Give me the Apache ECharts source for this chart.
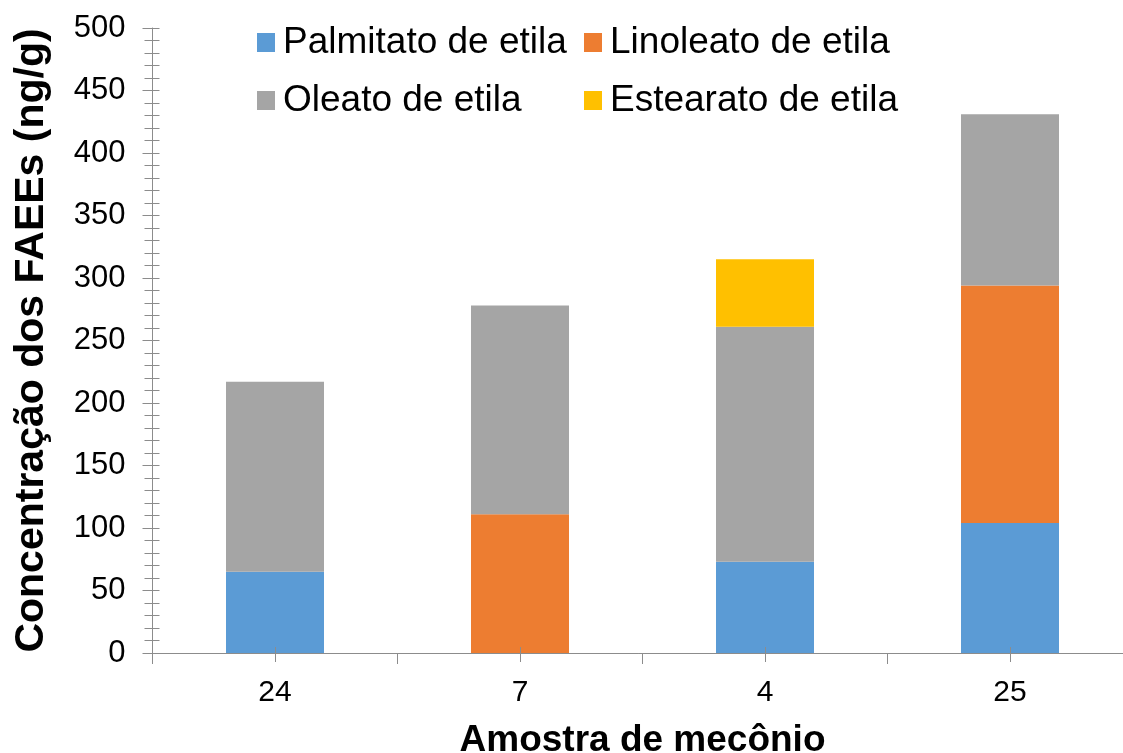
<!DOCTYPE html>
<html>
<head>
<meta charset="utf-8">
<script src="https://cdn.jsdelivr.net/npm/echarts@6/dist/echarts.min.js"></script>
<style>
  html, body { margin: 0; padding: 0; background: #ffffff; }
  #chart { width: 1123px; height: 753px; }
</style>
</head>
<body>
<div id="chart"></div>
<script>
// Samples of meconium (x categories)
var categories = ['24', '7', '4', '25'];

// FAEE concentrations per sample, ng/g (stacked)
var palmitato = [65, 0, 73, 104];
var linoleato = [0, 111, 0, 190];
var oleato = [152, 167, 188, 137];
var estearato = [0, 0, 54, 0];

var seriesNames = ['Palmitato de etila', 'Linoleato de etila', 'Oleato de etila', 'Estearato de etila'];
var seriesColors = ['#5B9BD5', '#ED7D31', '#A5A5A5', '#FFC000'];
var seriesValues = [palmitato, linoleato, oleato, estearato];

var FONT = '"Liberation Sans", Arial, sans-serif';
var AXIS_COLOR = '#8c8c8c';

var chart = echarts.init(document.getElementById('chart'), null, { renderer: 'canvas' });

function legendAt(name, left, top) {
  return {
    data: [name],
    left: left,
    top: top,
    orient: 'horizontal',
    icon: 'rect',
    itemWidth: 18,
    itemHeight: 19,
    padding: 0,
    selectedMode: false,
    textStyle: {
      fontFamily: FONT,
      fontSize: 37,
      lineHeight: 37,
      color: '#000000',
      padding: [0, 0, 0, 3]
    }
  };
}

var series = seriesNames.map(function (name, i) {
  return {
    name: name,
    type: 'bar',
    stack: 'total',
    barWidth: '40%',
    xAxisIndex: 0,
    yAxisIndex: 0,
    itemStyle: { color: seriesColors[i] },
    emphasis: { disabled: true },
    data: seriesValues[i]
  };
});

var option = {
  animation: false,
  backgroundColor: '#ffffff',
  legend: [
    legendAt(seriesNames[0], 257, 24),
    legendAt(seriesNames[1], 584, 24),
    legendAt(seriesNames[2], 257, 82),
    legendAt(seriesNames[3], 584, 82)
  ],
  grid: {
    left: 152.5,
    right: -9.5,
    top: 28,
    bottom: 100,
    containLabel: false,
    outerBoundsMode: 'none'
  },
  xAxis: [
    {
      type: 'category',
      data: categories,
      position: 'bottom',
      boundaryGap: true,
      name: 'Amostra de mecônio',
      nameLocation: 'middle',
      nameGap: 69,
      nameTextStyle: {
        fontFamily: FONT,
        fontSize: 37,
        fontWeight: 'bold',
        color: '#000000'
      },
      axisLine: { show: true, lineStyle: { color: AXIS_COLOR, width: 1 } },
      axisTick: { show: true, alignWithLabel: false, length: 11, lineStyle: { color: AXIS_COLOR } },
      axisLabel: {
        fontFamily: FONT,
        fontSize: 30,
        color: '#000000',
        margin: 25
      },
      splitLine: { show: false }
    },
    {
      // centre tick marks above the axis line
      type: 'category',
      data: categories,
      position: 'bottom',
      z: 5,
      axisLine: { show: false },
      axisTick: { show: true, alignWithLabel: true, inside: true, length: 6, lineStyle: { color: AXIS_COLOR } },
      axisLabel: { show: false },
      splitLine: { show: false }
    },
    {
      // centre tick marks below the axis line
      type: 'category',
      data: categories,
      position: 'bottom',
      z: 5,
      axisLine: { show: false },
      axisTick: { show: true, alignWithLabel: true, inside: false, length: 9, lineStyle: { color: AXIS_COLOR } },
      axisLabel: { show: false },
      splitLine: { show: false }
    }
  ],
  yAxis: [
    {
      type: 'value',
      min: 0,
      max: 500,
      interval: 50,
      position: 'left',
      name: 'Concentração dos FAEEs (ng/g)',
      nameLocation: 'middle',
      nameRotate: 90,
      nameGap: 100,
      nameTextStyle: {
        fontFamily: FONT,
        fontSize: 41,
        fontWeight: 'bold',
        color: '#000000'
      },
      axisLine: { show: true, lineStyle: { color: AXIS_COLOR, width: 1 } },
      axisTick: { show: true, length: 10, lineStyle: { color: AXIS_COLOR } },
      minorTick: { show: true, splitNumber: 5, length: 8, lineStyle: { color: AXIS_COLOR } },
      axisLabel: {
        fontFamily: FONT,
        fontSize: 31,
        color: '#000000',
        margin: 27
      },
      splitLine: { show: false },
      minorSplitLine: { show: false }
    },
    {
      // tick marks on the inner side of the value axis
      type: 'value',
      min: 0,
      max: 500,
      interval: 50,
      position: 'left',
      axisLine: { show: false },
      axisTick: { show: true, inside: true, length: 7, lineStyle: { color: AXIS_COLOR } },
      minorTick: { show: true, splitNumber: 5, length: 7, lineStyle: { color: AXIS_COLOR } },
      axisLabel: { show: false },
      splitLine: { show: false },
      minorSplitLine: { show: false }
    }
  ],
  series: series
};

chart.setOption(option);
</script>
</body>
</html>
